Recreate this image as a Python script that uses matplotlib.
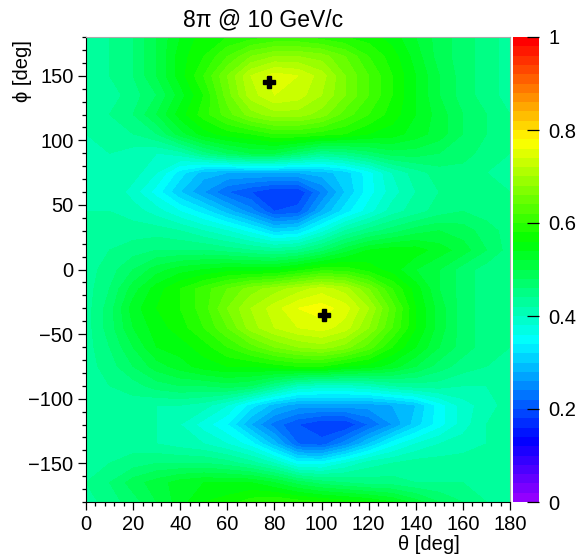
import colorsys
import numpy as np
import matplotlib
matplotlib.use("Agg")
import matplotlib.pyplot as plt
from matplotlib.colors import ListedColormap, BoundaryNorm
from matplotlib.ticker import MultipleLocator

# grid nodes
theta = list(range(0, 181, 10))
phi = list(range(-180, 181, 15))

# efficiency, one row per phi node (phi ascending)
eff = [
    [0.43, 0.45, 0.47, 0.50, 0.53, 0.56, 0.57, 0.59, 0.60, 0.59, 0.58, 0.57, 0.56, 0.54, 0.51, 0.48, 0.46, 0.44, 0.43],  # -180
    [0.44, 0.46, 0.49, 0.51, 0.53, 0.54, 0.54, 0.54, 0.52, 0.49, 0.47, 0.46, 0.45, 0.45, 0.44, 0.44, 0.44, 0.44, 0.44],  # -165
    [0.43, 0.44, 0.45, 0.46, 0.46, 0.46, 0.45, 0.43, 0.40, 0.35, 0.35, 0.38, 0.41, 0.42, 0.43, 0.43, 0.43, 0.43, 0.43],  # -150
    [0.43, 0.43, 0.43, 0.42, 0.41, 0.40, 0.38, 0.35, 0.29, 0.22, 0.21, 0.25, 0.30, 0.35, 0.38, 0.40, 0.41, 0.42, 0.43],  # -135
    [0.43, 0.43, 0.43, 0.42, 0.40, 0.37, 0.34, 0.28, 0.23, 0.20, 0.18, 0.18, 0.22, 0.26, 0.31, 0.35, 0.39, 0.42, 0.43],  # -120
    [0.43, 0.43, 0.43, 0.42, 0.42, 0.41, 0.38, 0.33, 0.29, 0.27, 0.27, 0.27, 0.27, 0.28, 0.30, 0.35, 0.39, 0.41, 0.43],  # -105
    [0.43, 0.44, 0.45, 0.47, 0.48, 0.48, 0.49, 0.48, 0.44, 0.40, 0.39, 0.39, 0.40, 0.42, 0.43, 0.43, 0.42, 0.42, 0.43],  # -90
    [0.43, 0.45, 0.48, 0.51, 0.53, 0.55, 0.56, 0.56, 0.57, 0.58, 0.58, 0.56, 0.55, 0.53, 0.50, 0.47, 0.45, 0.44, 0.44],  # -75
    [0.43, 0.46, 0.50, 0.54, 0.55, 0.57, 0.60, 0.63, 0.66, 0.68, 0.69, 0.67, 0.63, 0.58, 0.54, 0.50, 0.47, 0.45, 0.44],  # -60
    [0.43, 0.47, 0.52, 0.55, 0.57, 0.60, 0.64, 0.69, 0.72, 0.74, 0.75, 0.73, 0.68, 0.62, 0.56, 0.51, 0.47, 0.45, 0.44],  # -45
    [0.43, 0.47, 0.53, 0.56, 0.58, 0.61, 0.66, 0.70, 0.73, 0.76, 0.77, 0.75, 0.70, 0.63, 0.56, 0.51, 0.47, 0.45, 0.44],  # -30
    [0.43, 0.46, 0.51, 0.55, 0.58, 0.61, 0.64, 0.67, 0.69, 0.71, 0.73, 0.71, 0.66, 0.60, 0.55, 0.50, 0.47, 0.45, 0.44],  # -15
    [0.43, 0.45, 0.48, 0.51, 0.53, 0.54, 0.55, 0.55, 0.55, 0.57, 0.59, 0.59, 0.57, 0.55, 0.52, 0.50, 0.47, 0.45, 0.44],  # 0
    [0.43, 0.44, 0.45, 0.46, 0.46, 0.46, 0.45, 0.44, 0.43, 0.44, 0.47, 0.51, 0.54, 0.55, 0.55, 0.53, 0.51, 0.48, 0.45],  # 15
    [0.43, 0.43, 0.43, 0.43, 0.42, 0.40, 0.38, 0.35, 0.31, 0.32, 0.37, 0.42, 0.45, 0.47, 0.49, 0.50, 0.49, 0.47, 0.45],  # 30
    [0.42, 0.42, 0.41, 0.39, 0.36, 0.33, 0.29, 0.25, 0.20, 0.21, 0.28, 0.33, 0.37, 0.41, 0.43, 0.45, 0.46, 0.45, 0.44],  # 45
    [0.42, 0.42, 0.39, 0.35, 0.30, 0.26, 0.22, 0.20, 0.18, 0.18, 0.24, 0.30, 0.35, 0.39, 0.42, 0.44, 0.45, 0.45, 0.44],  # 60
    [0.42, 0.42, 0.41, 0.38, 0.33, 0.29, 0.28, 0.28, 0.28, 0.28, 0.29, 0.31, 0.35, 0.40, 0.43, 0.45, 0.45, 0.44, 0.43],  # 75
    [0.42, 0.42, 0.41, 0.40, 0.41, 0.45, 0.48, 0.50, 0.50, 0.47, 0.44, 0.45, 0.47, 0.49, 0.49, 0.48, 0.47, 0.45, 0.44],  # 90
    [0.42, 0.43, 0.44, 0.46, 0.51, 0.55, 0.57, 0.58, 0.60, 0.60, 0.59, 0.58, 0.56, 0.55, 0.53, 0.51, 0.48, 0.46, 0.44],  # 105
    [0.42, 0.44, 0.46, 0.50, 0.55, 0.59, 0.63, 0.67, 0.69, 0.69, 0.67, 0.63, 0.60, 0.57, 0.54, 0.51, 0.48, 0.46, 0.44],  # 120
    [0.42, 0.43, 0.45, 0.48, 0.53, 0.58, 0.65, 0.71, 0.74, 0.73, 0.70, 0.66, 0.62, 0.58, 0.54, 0.50, 0.47, 0.45, 0.43],  # 135
    [0.42, 0.44, 0.46, 0.50, 0.55, 0.60, 0.66, 0.72, 0.75, 0.74, 0.71, 0.66, 0.62, 0.58, 0.54, 0.50, 0.47, 0.45, 0.43],  # 150
    [0.42, 0.44, 0.46, 0.50, 0.55, 0.58, 0.62, 0.66, 0.68, 0.68, 0.67, 0.64, 0.60, 0.57, 0.53, 0.49, 0.47, 0.45, 0.43],  # 165
    [0.43, 0.44, 0.46, 0.50, 0.54, 0.57, 0.58, 0.59, 0.60, 0.60, 0.59, 0.58, 0.57, 0.55, 0.52, 0.49, 0.47, 0.45, 0.43],  # 180
]

# maxima markers
peak_theta = [77.5, 101.0]
peak_phi = [145.0, -35.5]

cbar_ticks = [0, 0.2, 0.4, 0.6, 0.8, 1.0]
cbar_labels = ["0", "0.2", "0.4", "0.6", "0.8", "1"]

plt.rcParams['font.family'] = ['Liberation Sans', 'DejaVu Sans']

# ROOT style "pretty" palette, 50 hues violet -> red
colors = [colorsys.hls_to_rgb((280 - (i + 1) * 5.6) / 360.0, 0.5, 1.0) for i in range(50)]
cmap = ListedColormap(colors)
levels = np.linspace(0, 1, 51)
norm = BoundaryNorm(levels, cmap.N)

W, H = 578, 560
fig = plt.figure(figsize=(W / 100, H / 100), dpi=100)
ax = fig.add_axes([86 / W, 58 / H, 424 / W, 465 / H])

cs = ax.contourf(theta, phi, eff, levels=levels, cmap=cmap, norm=norm)
ax.plot(peak_theta, peak_phi, 'P', color='black', markersize=9, linestyle='none')

ax.set_xlim(0, 180)
ax.set_ylim(-180, 180)
ax.set_xticks(range(0, 181, 20))
ax.set_yticks(range(-150, 151, 50))
ax.xaxis.set_minor_locator(MultipleLocator(4))
ax.yaxis.set_minor_locator(MultipleLocator(10))
ax.tick_params(which='major', direction='out', length=6, width=0.9, labelsize=14.5, pad=3)
ax.tick_params(which='minor', direction='out', length=3, width=0.9)
for s in ['top', 'right']:
    ax.spines[s].set_color('#aaaaaa')
    ax.spines[s].set_linewidth(0.8)

fig.text(263 / W, 1 - 20 / H, "8π @ 10 GeV/c", ha='center', va='center', fontsize=16.5)
fig.text(460 / W, 1 - 535 / H, "θ [deg]", ha='right', va='top', fontsize=14.5)
fig.text(22 / W, 1 - 40 / H, "ϕ [deg]", ha='center', va='top', rotation=90, fontsize=14.5)

cax = fig.add_axes([513 / W, 58 / H, 26 / W, 465 / H])
cb = fig.colorbar(cs, cax=cax)
cb.outline.set_visible(False)
cb.set_ticks(cbar_ticks)
cb.set_ticklabels(cbar_labels)
cax.tick_params(direction='in', length=9, width=0.9, labelsize=14.5, pad=7, color='black')
cax.minorticks_off()

fig.savefig("out.png", dpi=100)
